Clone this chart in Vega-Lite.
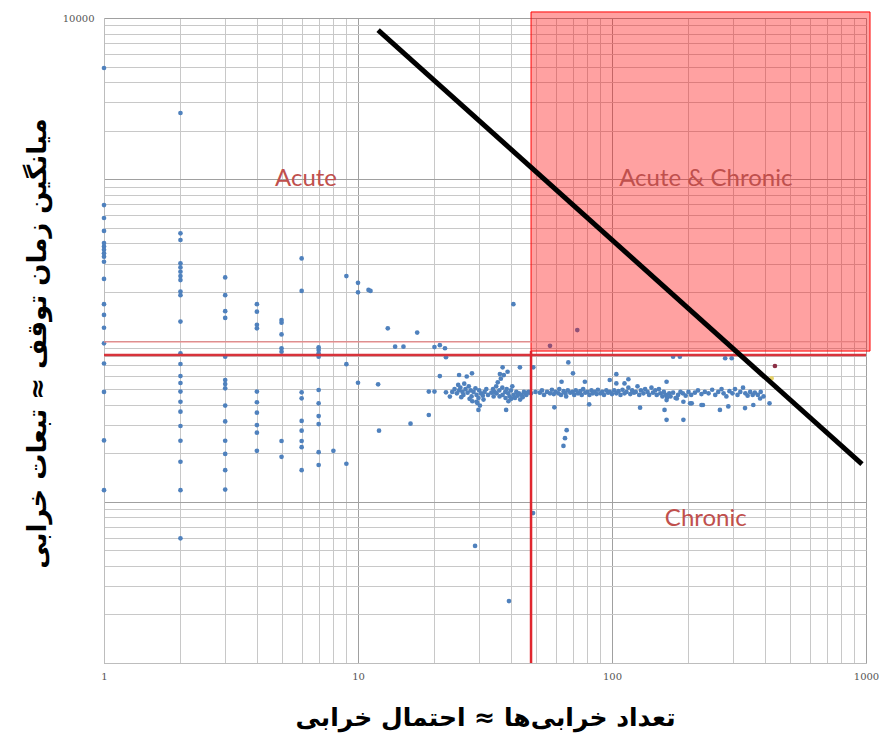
{
  "$schema": "https://vega.github.io/schema/vega-lite/v6.json",
  "width": 762,
  "height": 645,
  "autosize": {"type": "none"},
  "padding": {"left": 104, "top": 18, "right": 13, "bottom": 75},
  "background": "white",
  "config": {"view": {"stroke": null}},
  "datasets": {
    "pts": [
      {"x":1,"y":4898,"g":"main"},{"x":1,"y":692,"g":"main"},{"x":1,"y":575,"g":"main"},{"x":1,"y":478,"g":"main"},{"x":1,"y":402,"g":"main"},{"x":1,"y":383,"g":"main"},{"x":1,"y":365,"g":"main"},{"x":1,"y":347,"g":"main"},{"x":1,"y":331,"g":"main"},{"x":1,"y":308,"g":"main"},{"x":1,"y":241,"g":"main"},{"x":1,"y":168,"g":"main"},{"x":1,"y":144,"g":"main"},{"x":1,"y":120,"g":"main"},{"x":1,"y":96,"g":"main"},{"x":1,"y":72,"g":"main"},{"x":1,"y":48,"g":"main"},{"x":1,"y":24,"g":"main"},{"x":1,"y":11.8,"g":"main"},
      {"x":2,"y":2576,"g":"main"},{"x":2,"y":462,"g":"main"},{"x":2,"y":420,"g":"main"},{"x":2,"y":301,"g":"main"},{"x":2,"y":284,"g":"main"},{"x":2,"y":267,"g":"main"},{"x":2,"y":251,"g":"main"},{"x":2,"y":237,"g":"main"},{"x":2,"y":201,"g":"main"},{"x":2,"y":191,"g":"main"},{"x":2,"y":131,"g":"main"},{"x":2,"y":83.3,"g":"main"},{"x":2,"y":71.5,"g":"main"},{"x":2,"y":60.2,"g":"main"},{"x":2,"y":54.5,"g":"main"},{"x":2,"y":48.2,"g":"main"},{"x":2,"y":41.7,"g":"main"},{"x":2,"y":36.2,"g":"main"},{"x":2,"y":29.5,"g":"main"},{"x":2,"y":23.9,"g":"main"},{"x":2,"y":17.7,"g":"main"},{"x":2,"y":11.8,"g":"main"},{"x":2,"y":5.93,"g":"main"},
      {"x":3,"y":246,"g":"main"},{"x":3,"y":191,"g":"main"},{"x":3,"y":152,"g":"main"},{"x":3,"y":138,"g":"main"},{"x":3,"y":79.4,"g":"main"},{"x":3,"y":56.9,"g":"main"},{"x":3,"y":53.7,"g":"main"},{"x":3,"y":50.5,"g":"main"},{"x":3,"y":39.5,"g":"main"},{"x":3,"y":31.5,"g":"main"},{"x":3,"y":23.9,"g":"main"},{"x":3,"y":19.8,"g":"main"},{"x":3,"y":15.7,"g":"main"},{"x":3,"y":11.9,"g":"main"},
      {"x":4,"y":168,"g":"main"},{"x":4,"y":151,"g":"main"},{"x":4,"y":125,"g":"main"},{"x":4,"y":119,"g":"main"},{"x":4,"y":48.2,"g":"main"},{"x":4,"y":41.4,"g":"main"},{"x":4,"y":35.7,"g":"main"},{"x":4,"y":29.9,"g":"main"},{"x":4,"y":26.8,"g":"main"},{"x":4,"y":20.7,"g":"main"},
      {"x":5,"y":134,"g":"main"},{"x":5,"y":129,"g":"main"},{"x":5,"y":109,"g":"main"},{"x":5,"y":89.5,"g":"main"},{"x":5,"y":85.3,"g":"main"},{"x":5,"y":23.8,"g":"main"},{"x":5,"y":19.0,"g":"main"},
      {"x":6,"y":323,"g":"main"},{"x":6,"y":203,"g":"main"},{"x":6,"y":47.7,"g":"main"},{"x":6,"y":43.8,"g":"main"},{"x":6,"y":31.7,"g":"main"},{"x":6,"y":27.6,"g":"main"},{"x":6,"y":23.8,"g":"main"},{"x":6,"y":21.8,"g":"main"},{"x":6,"y":15.7,"g":"main"},
      {"x":7,"y":90.7,"g":"main"},{"x":7,"y":87.3,"g":"main"},{"x":7,"y":83.3,"g":"main"},{"x":7,"y":79.4,"g":"main"},{"x":7,"y":49.3,"g":"main"},{"x":7,"y":40.8,"g":"main"},{"x":7,"y":34.0,"g":"main"},{"x":7,"y":30.3,"g":"main"},{"x":7,"y":20.3,"g":"main"},{"x":7,"y":16.9,"g":"main"},
      {"x":8,"y":20.7,"g":"main"},{"x":9,"y":251,"g":"main"},{"x":9,"y":71.3,"g":"main"},{"x":9,"y":17.2,"g":"main"},
      {"x":10,"y":228,"g":"main"},{"x":10,"y":199,"g":"main"},{"x":10,"y":54.7,"g":"main"},{"x":11,"y":206,"g":"main"},{"x":11.2,"y":203,"g":"main"},
      {"x":12,"y":53.5,"g":"main"},{"x":12.1,"y":27.6,"g":"main"},{"x":13.1,"y":119,"g":"main"},{"x":14,"y":91.6,"g":"main"},{"x":15.1,"y":91.6,"g":"main"},{"x":17.1,"y":112,"g":"main"},{"x":16.1,"y":30.5,"g":"main"},{"x":19,"y":34.5,"g":"main"},
      {"x":20,"y":91,"g":"main"},{"x":21,"y":93.6,"g":"main"},{"x":22,"y":89.5,"g":"main"},{"x":22.2,"y":78.7,"g":"main"},{"x":21,"y":60.2,"g":"main"},{"x":19,"y":48.2,"g":"main"},{"x":20,"y":48.2,"g":"main"},{"x":22.2,"y":47.7,"g":"main"},{"x":23,"y":44.9,"g":"main"},
      {"x":40.9,"y":168,"g":"main"},{"x":38.3,"y":37.1,"g":"main"},{"x":29.3,"y":41.7,"g":"main"},{"x":29.8,"y":37.1,"g":"main"},{"x":49,"y":68.2,"g":"main"},{"x":43.4,"y":68.2,"g":"main"},{"x":37.1,"y":68.2,"g":"main"},{"x":25,"y":61.1,"g":"main"},{"x":26.8,"y":59.8,"g":"main"},{"x":28.1,"y":62.6,"g":"main"},
      {"x":28.9,"y":5.32,"g":"main"},{"x":39.3,"y":2.42,"g":"main"},{"x":48.9,"y":8.51,"g":"main"},
      {"x":67.3,"y":73.1,"g":"main"},{"x":70.2,"y":62.6,"g":"main"},{"x":63.3,"y":55.5,"g":"main"},{"x":78.2,"y":55.5,"g":"main"},{"x":59.3,"y":38.5,"g":"main"},{"x":81.3,"y":40.2,"g":"main"},{"x":98,"y":56.9,"g":"main"},{"x":104,"y":61.8,"g":"main"},{"x":104,"y":54.2,"g":"main"},{"x":112,"y":54.2,"g":"main"},{"x":116,"y":57.5,"g":"main"},{"x":129,"y":38.3,"g":"main"},{"x":164,"y":55.5,"g":"main"},{"x":164,"y":42.7,"g":"main"},{"x":161,"y":37.1,"g":"main"},{"x":164,"y":32.2,"g":"main"},{"x":191,"y":32.2,"g":"main"},{"x":180,"y":43.7,"g":"main"},{"x":206,"y":40.8,"g":"main"},{"x":228,"y":39.8,"g":"main"},{"x":174,"y":79.4,"g":"main"},{"x":185,"y":79.4,"g":"main"},{"x":66.3,"y":27.8,"g":"main"},{"x":65.3,"y":24.8,"g":"main"},{"x":64.4,"y":22.2,"g":"main"},{"x":57,"y":92.7,"g":"main"},{"x":73,"y":116,"g":"main"},
      {"x":279,"y":77.6,"g":"main"},{"x":296,"y":77.6,"g":"main"},
      {"x":417,"y":40.8,"g":"main"},{"x":383,"y":43.7,"g":"main"},{"x":360,"y":39.8,"g":"main"},{"x":334,"y":38.1,"g":"main"},{"x":287,"y":39,"g":"main"},{"x":266,"y":37.1,"g":"main"},{"x":225,"y":39.8,"g":"main"},{"x":203,"y":40.8,"g":"main"},{"x":191,"y":41.7,"g":"main"},
      {"x":23.5,"y":48,"g":"main"},{"x":24,"y":50,"g":"main"},{"x":24.5,"y":47,"g":"main"},{"x":25,"y":49,"g":"main"},{"x":25.3,"y":51,"g":"main"},{"x":25.8,"y":48,"g":"main"},{"x":26,"y":46,"g":"main"},{"x":26.5,"y":50,"g":"main"},{"x":27,"y":47.5,"g":"main"},{"x":27.3,"y":52,"g":"main"},{"x":27.8,"y":49,"g":"main"},{"x":28,"y":45,"g":"main"},{"x":28.5,"y":48,"g":"main"},{"x":29,"y":50.5,"g":"main"},{"x":29.3,"y":46,"g":"main"},{"x":29.8,"y":44,"g":"main"},{"x":30,"y":49,"g":"main"},{"x":30.5,"y":47,"g":"main"},{"x":31,"y":45.5,"g":"main"},{"x":31.5,"y":48,"g":"main"},{"x":32,"y":50,"g":"main"},{"x":32.5,"y":46,"g":"main"},{"x":24.8,"y":53,"g":"main"},{"x":26.2,"y":54,"g":"main"},{"x":28.2,"y":42,"g":"main"},{"x":29.5,"y":41,"g":"main"},{"x":30.2,"y":39.5,"g":"main"},{"x":25.5,"y":44.5,"g":"main"},{"x":27.5,"y":43.5,"g":"main"},{"x":31.2,"y":43,"g":"main"},
      {"x":34,"y":50,"g":"main"},{"x":34.5,"y":48,"g":"main"},{"x":35,"y":52,"g":"main"},{"x":35.1,"y":47,"g":"main"},{"x":35.5,"y":55,"g":"main"},{"x":36,"y":49,"g":"main"},{"x":36.1,"y":45,"g":"main"},{"x":36.5,"y":58,"g":"main"},{"x":37,"y":51,"g":"main"},{"x":37.1,"y":46,"g":"main"},{"x":37.5,"y":61,"g":"main"},{"x":38,"y":48,"g":"main"},{"x":38.1,"y":44,"g":"main"},{"x":38.5,"y":50,"g":"main"},{"x":39,"y":47,"g":"main"},{"x":39.5,"y":45,"g":"main"},{"x":40,"y":49,"g":"main"},{"x":40.1,"y":43.5,"g":"main"},{"x":40.5,"y":52,"g":"main"},{"x":41,"y":46,"g":"main"},{"x":41.5,"y":44,"g":"main"},{"x":42,"y":48,"g":"main"},{"x":42.5,"y":45.5,"g":"main"},{"x":43,"y":47,"g":"main"},{"x":43.5,"y":43,"g":"main"},{"x":44,"y":46,"g":"main"},{"x":44.5,"y":44.5,"g":"main"},{"x":45,"y":48,"g":"main"},{"x":45.5,"y":47,"g":"main"},{"x":46,"y":46,"g":"main"},{"x":46.5,"y":47.5,"g":"main"},{"x":47,"y":48,"g":"main"},{"x":36.2,"y":62,"g":"main"},{"x":38.8,"y":64,"g":"main"},{"x":33.5,"y":47.5,"g":"main"},{"x":34.2,"y":45,"g":"main"},{"x":39.1,"y":42,"g":"main"},
      {"x":48,"y":47,"g":"main"},{"x":50,"y":48,"g":"main"},{"x":52,"y":47.5,"g":"main"},{"x":53,"y":49,"g":"main"},{"x":54,"y":46,"g":"main"},{"x":55.5,"y":48,"g":"main"},{"x":57,"y":47,"g":"main"},{"x":58,"y":49.5,"g":"main"},{"x":59,"y":46.5,"g":"main"},{"x":60,"y":48,"g":"main"},{"x":61.5,"y":47,"g":"main"},{"x":62,"y":50,"g":"main"},{"x":63,"y":46,"g":"main"},{"x":64.5,"y":48.5,"g":"main"},{"x":65.5,"y":47,"g":"main"},{"x":66,"y":45,"g":"main"},{"x":67,"y":49,"g":"main"},{"x":68.5,"y":47.5,"g":"main"},{"x":70,"y":48,"g":"main"},{"x":71,"y":46,"g":"main"},{"x":72,"y":49,"g":"main"},{"x":73.5,"y":47,"g":"main"},{"x":75,"y":48.5,"g":"main"},{"x":76,"y":46,"g":"main"},{"x":77,"y":50,"g":"main"},{"x":78.5,"y":47.5,"g":"main"},{"x":80,"y":48,"g":"main"},{"x":81.5,"y":46,"g":"main"},{"x":83,"y":49,"g":"main"},{"x":84,"y":47,"g":"main"},{"x":85.5,"y":48,"g":"main"},{"x":87,"y":46.5,"g":"main"},{"x":88,"y":49.5,"g":"main"},{"x":90,"y":47,"g":"main"},{"x":91.5,"y":48,"g":"main"},{"x":93,"y":46,"g":"main"},{"x":95,"y":49,"g":"main"},{"x":96.5,"y":47.5,"g":"main"},{"x":98,"y":48,"g":"main"},{"x":100,"y":46.5,"g":"main"},{"x":102,"y":49,"g":"main"},{"x":104,"y":47,"g":"main"},{"x":106,"y":48.5,"g":"main"},{"x":108,"y":46,"g":"main"},{"x":110,"y":49.5,"g":"main"},{"x":112,"y":47,"g":"main"},{"x":114,"y":48,"g":"main"},{"x":116,"y":51,"g":"main"},{"x":118,"y":46.5,"g":"main"},{"x":120,"y":49,"g":"main"},{"x":122,"y":47.5,"g":"main"},{"x":124,"y":48,"g":"main"},{"x":126,"y":52,"g":"main"},{"x":128,"y":46,"g":"main"},{"x":130,"y":49,"g":"main"},{"x":133,"y":47,"g":"main"},{"x":135,"y":50,"g":"main"},{"x":138,"y":48,"g":"main"},{"x":140,"y":46,"g":"main"},{"x":143,"y":51,"g":"main"},{"x":145,"y":47.5,"g":"main"},{"x":148,"y":49,"g":"main"},{"x":150,"y":46,"g":"main"},{"x":153,"y":50,"g":"main"},{"x":155,"y":47,"g":"main"},{"x":158,"y":45,"g":"main"},{"x":160,"y":48,"g":"main"},{"x":163,"y":46,"g":"main"},{"x":165,"y":44.5,"g":"main"},{"x":168,"y":47,"g":"main"},{"x":170,"y":45,"g":"main"},{"x":174,"y":47.5,"g":"main"},{"x":178,"y":44,"g":"main"},{"x":182,"y":46,"g":"main"},{"x":186,"y":48,"g":"main"},{"x":190,"y":47,"g":"main"},{"x":195,"y":45.5,"g":"main"},{"x":200,"y":48,"g":"main"},{"x":205,"y":46,"g":"main"},{"x":212,"y":47.5,"g":"main"},{"x":218,"y":49,"g":"main"},{"x":225,"y":46.5,"g":"main"},{"x":232,"y":48,"g":"main"},{"x":240,"y":47,"g":"main"},{"x":248,"y":49.5,"g":"main"},{"x":255,"y":46,"g":"main"},{"x":262,"y":48,"g":"main"},{"x":270,"y":50,"g":"main"},{"x":275,"y":47,"g":"main"},{"x":282,"y":45,"g":"main"},{"x":290,"y":48.5,"g":"main"},{"x":298,"y":47,"g":"main"},{"x":305,"y":50,"g":"main"},{"x":312,"y":46,"g":"main"},{"x":320,"y":48,"g":"main"},{"x":328,"y":51,"g":"main"},{"x":335,"y":47,"g":"main"},{"x":342,"y":45.5,"g":"main"},{"x":350,"y":48,"g":"main"},{"x":358,"y":46,"g":"main"},{"x":365,"y":47.5,"g":"main"},{"x":375,"y":46,"g":"main"},{"x":385,"y":48,"g":"main"},{"x":395,"y":45,"g":"main"},
      {"x":438,"y":69.5,"g":"hi1"},{"x":425,"y":58.3,"g":"hi2"}
    ],
    "zone": [{"x": 48, "x2": 1037, "y": 86, "y2": 10900}],
    "hline": [{"y": 81.3}],
    "hline2": [{"y": 98}],
    "vline": [{"x": 48, "y": 1, "y2": 86}],
    "diag": [{"x": 12, "y": 8420, "x2": 964, "y2": 17.1}],
    "labels": [
      {"text": "Acute", "x": 6.24, "y": 1000},
      {"text": "Acute & Chronic", "x": 234, "y": 1000},
      {"text": "Chronic", "x": 234, "y": 7.82}
    ]
  },
  "layer": [
    {
      "data": {"name": "pts"},
      "mark": {"type": "circle", "size": 22, "opacity": 1},
      "encoding": {
        "x": {
          "field": "x", "type": "quantitative",
          "scale": {"type": "log", "domain": [1, 1000], "nice": false},
          "axis": {
            "title": "تعداد خرابی‌ها ≈ احتمال خرابی",
            "values": [1,2,3,4,5,6,7,8,9,10,20,30,40,50,60,70,80,90,100,200,300,400,500,600,700,800,900,1000],
            "format": "d",
            "labelExpr": "(datum.value == 1 || datum.value == 10 || datum.value == 100 || datum.value == 1000) ? datum.label : ''",
            "labelOverlap": false, "labelFlush": false,
            "grid": true,
            "gridColor": {"condition": {"test": "datum.value == 1 || datum.value == 10 || datum.value == 100 || datum.value == 1000", "value": "#a0a0a0"}, "value": "#c8c8c8"},
            "gridWidth": 1,
            "ticks": false, "domain": true, "domainColor": "#bdbdbd",
            "labelFont": "DejaVu Serif", "labelFontSize": 10, "labelColor": "#555555", "labelPadding": 8,
            "titleFont": "DejaVu Sans", "titleFontSize": 25, "titleFontWeight": "bold", "titleColor": "#000000",
            "titleY": 54, "titleBaseline": "middle"
          }
        },
        "y": {
          "field": "y", "type": "quantitative",
          "scale": {"type": "log", "domain": [1, 10000], "nice": false},
          "axis": {
            "title": "میانگین زمان توقف ≈ تبعات خرابی",
            "values": [1,2,3,4,5,6,7,8,9,10,20,30,40,50,60,70,80,90,100,200,300,400,500,600,700,800,900,1000,2000,3000,4000,5000,6000,7000,8000,9000,10000],
            "format": "d",
            "labelExpr": "datum.value == 10000 ? datum.label : ''",
            "labelOverlap": false, "labelFlush": false,
            "grid": true,
            "gridColor": {"condition": {"test": "datum.value == 1 || datum.value == 10 || datum.value == 100 || datum.value == 1000 || datum.value == 10000", "value": "#a0a0a0"}, "value": "#c8c8c8"},
            "gridWidth": 1,
            "ticks": false, "domain": true, "domainColor": "#bdbdbd",
            "labelFont": "DejaVu Serif", "labelFontSize": 10, "labelColor": "#555555", "labelPadding": 10,
            "titleFont": "DejaVu Sans", "titleFontSize": 26, "titleFontWeight": "bold", "titleColor": "#000000",
            "titleAngle": -90, "titleX": -67, "titleY": 325, "titleBaseline": "middle", "titleAlign": "center"
          }
        },
        "color": {
          "field": "g", "type": "nominal",
          "scale": {"domain": ["main", "hi1", "hi2"], "range": ["#4f81bd", "#8b2e45", "#e6d36a"]},
          "legend": null
        }
      }
    },
    {
      "data": {"name": "zone"},
      "mark": {"type": "rect", "fill": "#ff0000", "fillOpacity": 0.37, "stroke": "#ff0000", "strokeWidth": 1, "clip": false},
      "encoding": {
        "x": {"field": "x", "type": "quantitative"},
        "x2": {"field": "x2"},
        "y": {"field": "y", "type": "quantitative"},
        "y2": {"field": "y2"}
      }
    },
    {
      "data": {"name": "hline2"},
      "mark": {"type": "rule", "color": "#f08a8a", "strokeWidth": 1.2},
      "encoding": {"y": {"field": "y", "type": "quantitative"}}
    },
    {
      "data": {"name": "hline"},
      "mark": {"type": "rule", "color": "#d8333b", "strokeWidth": 2.5},
      "encoding": {"y": {"field": "y", "type": "quantitative"}}
    },
    {
      "data": {"name": "vline"},
      "mark": {"type": "rule", "color": "#e0262e", "strokeWidth": 2.5},
      "encoding": {
        "x": {"field": "x", "type": "quantitative"},
        "y": {"field": "y", "type": "quantitative"},
        "y2": {"field": "y2"}
      }
    },
    {
      "data": {"name": "labels"},
      "mark": {"type": "text", "font": "Lato", "fontSize": 24, "color": "#c0504d", "align": "center", "baseline": "middle"},
      "encoding": {
        "x": {"field": "x", "type": "quantitative"},
        "y": {"field": "y", "type": "quantitative"},
        "text": {"field": "text"}
      }
    },
    {
      "data": {"name": "diag"},
      "mark": {"type": "rule", "color": "#000000", "strokeWidth": 5, "clip": false},
      "encoding": {
        "x": {"field": "x", "type": "quantitative"},
        "y": {"field": "y", "type": "quantitative"},
        "x2": {"field": "x2"},
        "y2": {"field": "y2"}
      }
    }
  ]
}
